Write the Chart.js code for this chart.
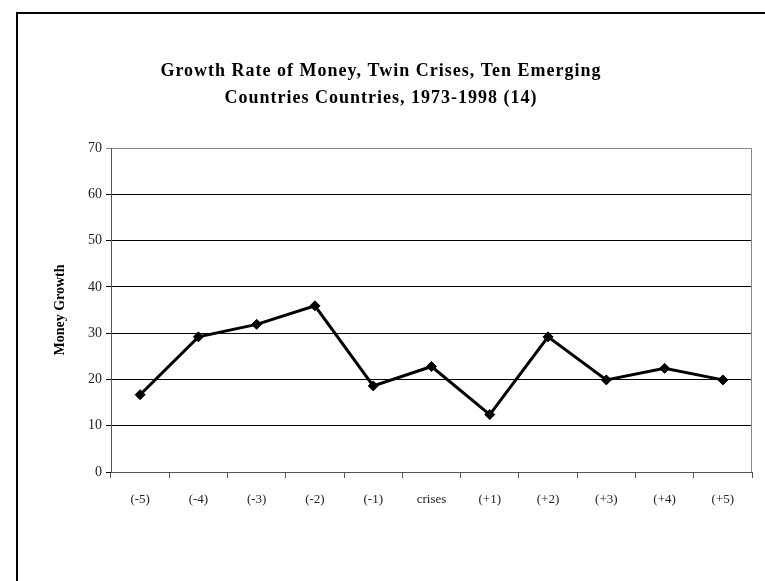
<!DOCTYPE html>
<html>
<head>
<meta charset="utf-8">
<script src="https://cdn.jsdelivr.net/npm/chart.js@4"></script>
<style>
    html, body { margin: 0; padding: 0; background: #fff; overflow: hidden; }
    #wrap { position: relative; width: 765px; height: 581px; }
    #frame {
        position: absolute; left: 16px; top: 12px;
        width: 800px; height: 700px;
        border: 2px solid #000;
        pointer-events: none;
    }
    canvas { position: absolute; left: 0; top: 0; }
</style>
</head>
<body>
<div id="wrap">
    <canvas id="moneyChart" width="765" height="581"></canvas>
    <div id="frame"></div>
</div>
<script>
// Dados do gráfico
const periodos = ['(-5)', '(-4)', '(-3)', '(-2)', '(-1)', 'crises', '(+1)', '(+2)', '(+3)', '(+4)', '(+5)'];
const crescimentoMoeda = [16.7, 29.2, 31.9, 35.9, 18.6, 22.8, 12.4, 29.2, 19.9, 22.4, 19.9];
const ticksY = [0, 10, 20, 30, 40, 50, 60, 70];
const tituloLinhas = ['Growth Rate of Money, Twin Crises, Ten Emerging', 'Countries Countries, 1973-1998 (14)'];

const serif = "'Liberation Serif', 'DejaVu Serif', serif";
const tituloFonte = { family: serif, size: 18, weight: 'bold', lineHeight: '27px' };

const ctx = document.getElementById('moneyChart');

new Chart(ctx, {
    type: 'line',
    data: {
        labels: periodos,
        datasets: [{
            label: 'Money Growth',
            data: crescimentoMoeda,
            borderColor: '#000',
            backgroundColor: '#000',
            borderWidth: 3,
            tension: 0,
            pointStyle: 'rectRot',
            pointRadius: 5,
            pointBorderWidth: 1,
            pointHoverRadius: 5
        }]
    },
    options: {
        responsive: false,
        animation: false,
        layout: {
            padding: { left: 10, right: 13, top: 0, bottom: 0 }
        },
        plugins: {
            legend: { display: false },
            tooltip: { enabled: false },
            title: {
                // espaço reservado; o texto é desenhado no plugin com espaçamento entre letras
                display: true,
                text: tituloLinhas,
                color: 'rgba(0,0,0,0)',
                font: tituloFonte,
                padding: { top: 56, bottom: 38 }
            }
        },
        scales: {
            x: {
                offset: true,
                afterFit: (scale) => { scale.height = 109; },
                grid: {
                    display: true,
                    offset: true,
                    drawOnChartArea: false,
                    drawTicks: true,
                    tickLength: 6,
                    color: '#555'
                },
                border: { display: true, color: '#555', width: 1 },
                ticks: {
                    color: '#222',
                    padding: 14,
                    maxRotation: 0,
                    autoSkip: false,
                    font: { family: serif, size: 13 }
                }
            },
            y: {
                min: 0,
                max: 70,
                afterFit: (scale) => { scale.width = 101; },
                afterBuildTicks: (scale) => {
                    scale.ticks = ticksY.map(v => ({ value: v }));
                },
                grid: {
                    color: (c) => c.tick && c.tick.value === 70 ? '#888' : '#000',
                    tickLength: 5,
                    lineWidth: 1
                },
                border: { display: true, color: '#555', width: 1 },
                ticks: {
                    color: '#222',
                    padding: 4,
                    font: { family: serif, size: 14 }
                },
                title: {
                    display: true,
                    text: 'Money Growth',
                    color: '#000',
                    font: { family: serif, size: 14, weight: 'bold' },
                    padding: { top: 42, bottom: 0 }
                }
            }
        }
    },
    plugins: [{
        id: 'extras',
        afterDraw(chart) {
            const a = chart.chartArea;
            const c = chart.ctx;
            c.save();
            // borda direita da área do gráfico
            c.strokeStyle = '#888';
            c.lineWidth = 1;
            c.beginPath();
            c.moveTo(a.right - 0.5, a.top);
            c.lineTo(a.right - 0.5, a.bottom);
            c.stroke();

            // título com letras espaçadas
            const t = chart.titleBlock;
            c.fillStyle = '#000';
            c.font = `${tituloFonte.weight} ${tituloFonte.size}px ${tituloFonte.family}`;
            c.textAlign = 'center';
            c.textBaseline = 'middle';
            c.letterSpacing = '1px';
            const cx = (t.left + t.right) / 2;
            tituloLinhas.forEach((linha, i) => {
                c.fillText(linha, cx, t.top + 58 + 27 * (i + 0.5));
            });
            c.restore();
        }
    }]
});
</script>
</body>
</html>
